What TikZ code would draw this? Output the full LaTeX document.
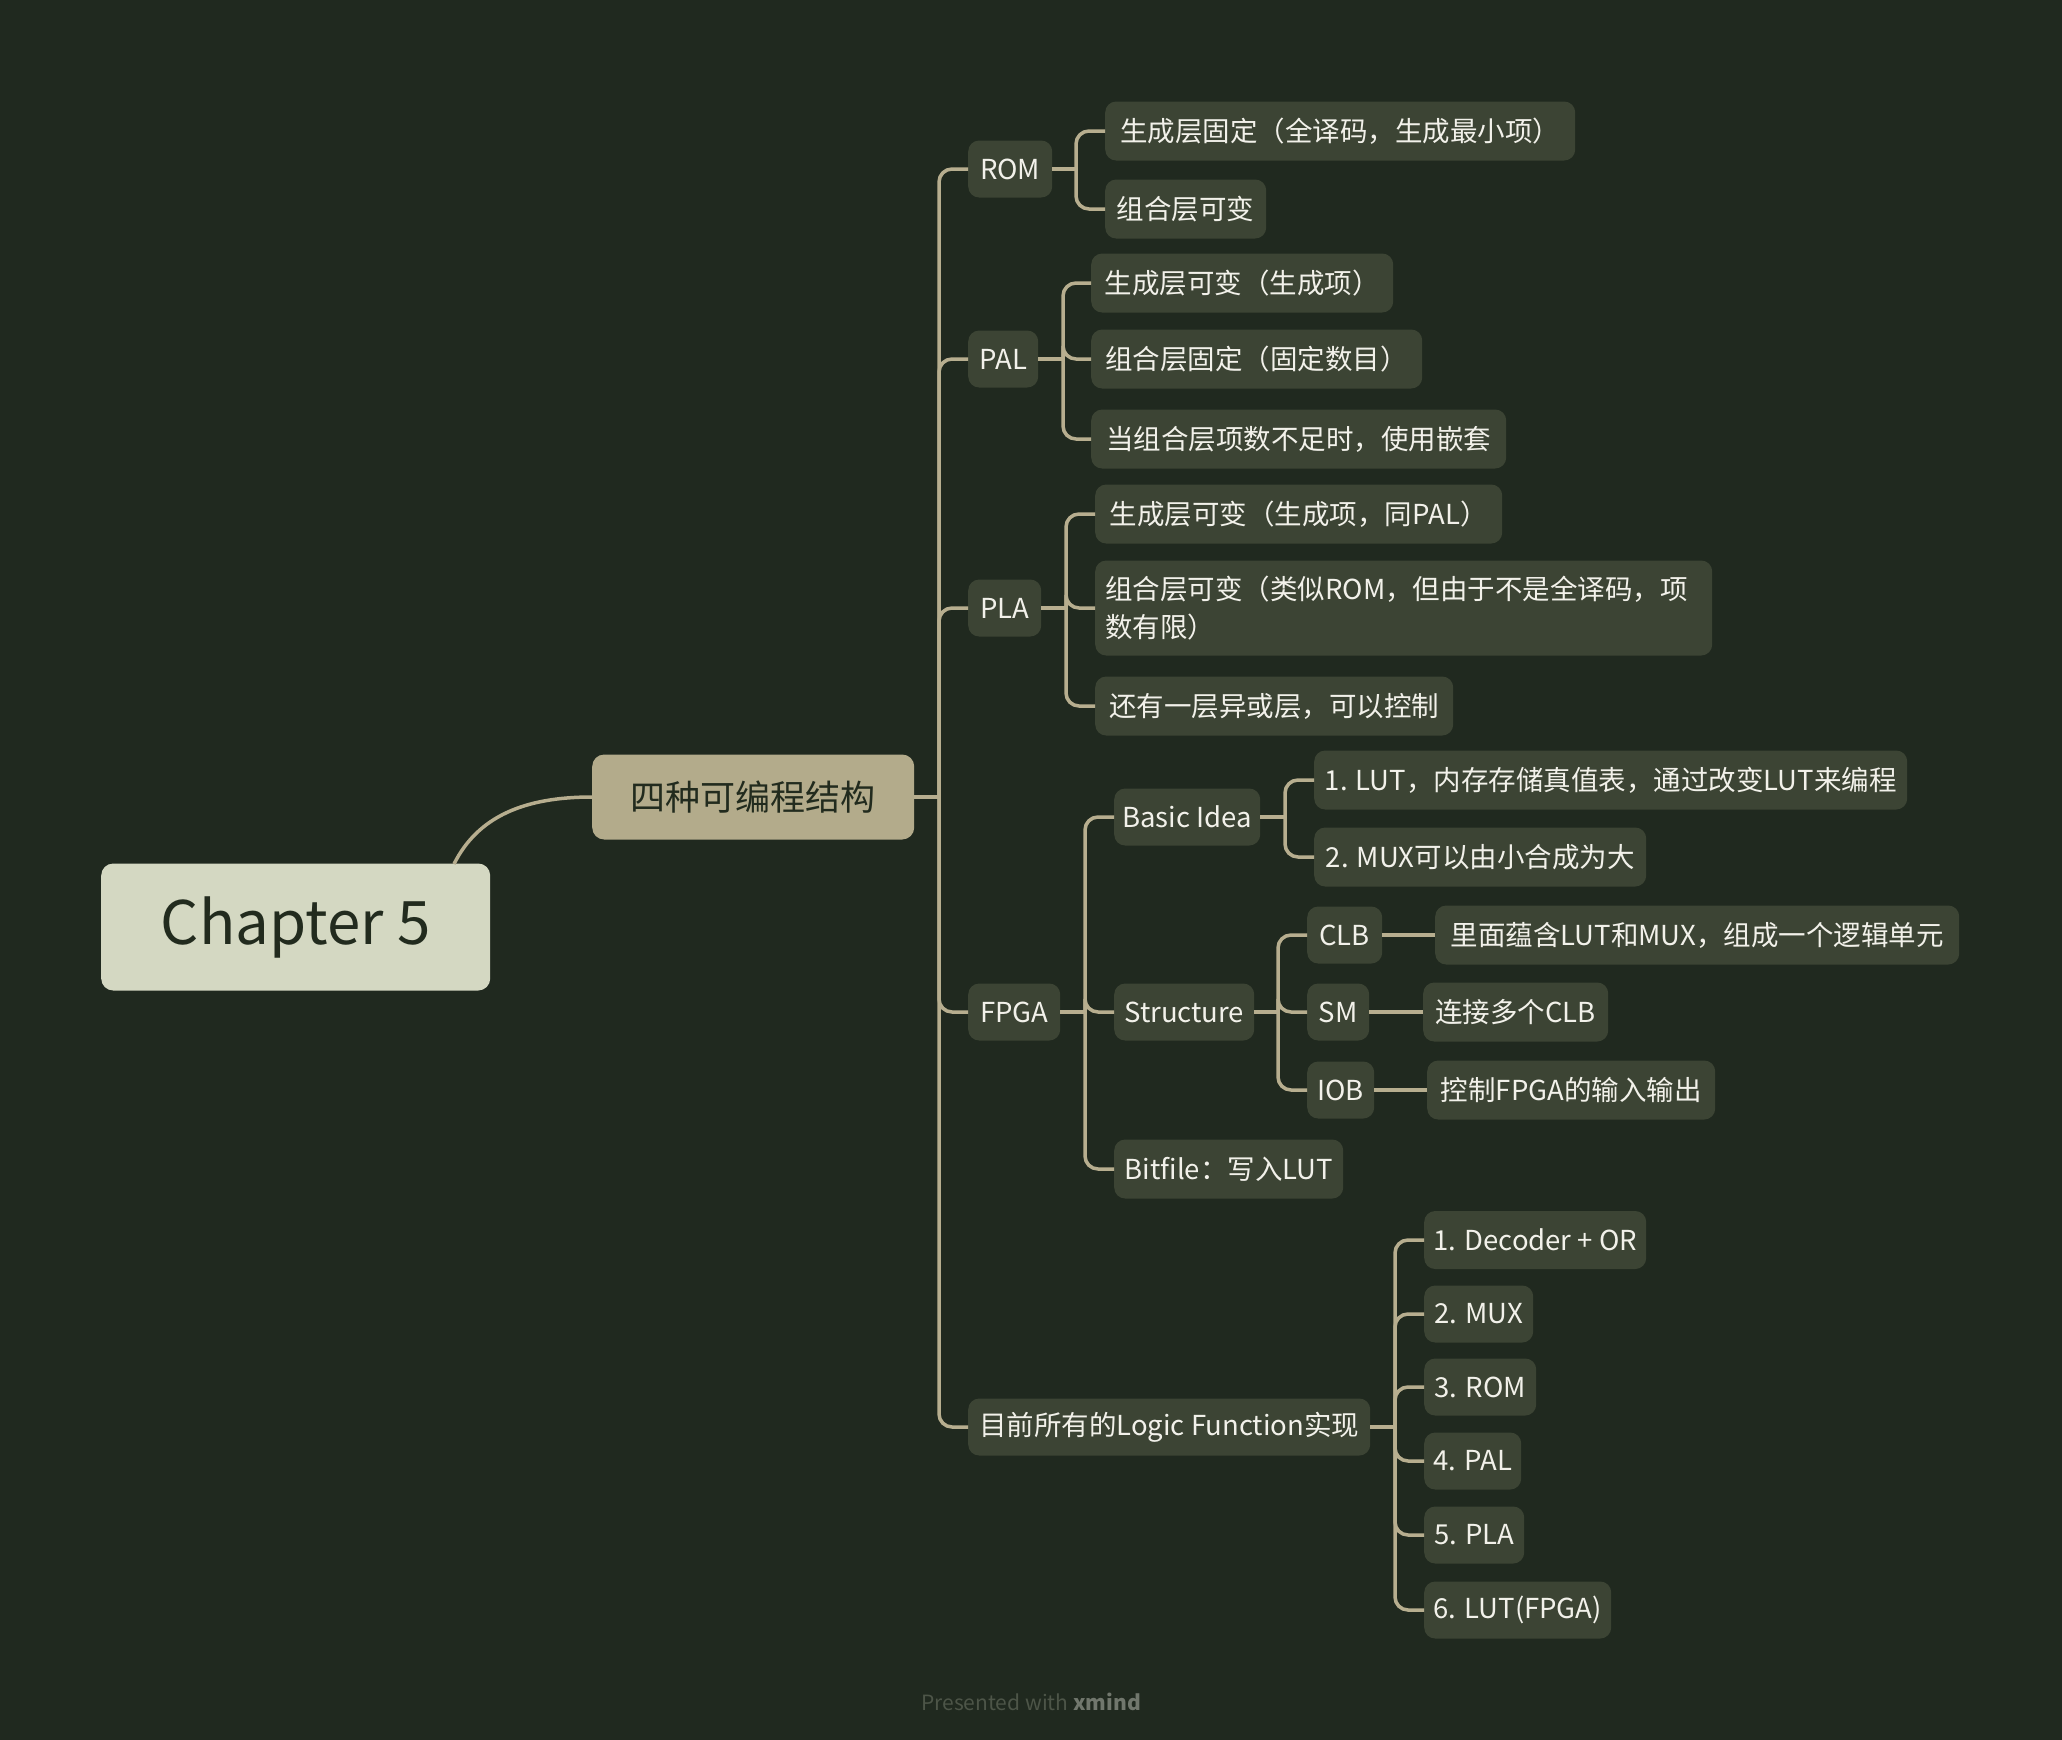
\documentclass[tikz,border=0pt]{standalone}
\usepackage{fontspec}
\setmainfont{Noto Sans CJK SC}
\definecolor{bg}{HTML}{20291F}
\definecolor{leaf}{HTML}{3C4434}
\definecolor{ln}{HTML}{B7AE8F}
\definecolor{rootc}{HTML}{D4D8C2}
\definecolor{mainc}{HTML}{B3AB8B}
\definecolor{dk}{HTML}{222B1E}
\definecolor{lt}{HTML}{F2F1EA}
\definecolor{foot}{HTML}{4D5548}
\tikzset{
  box/.style={fill=leaf, rounded corners=11, text=lt, anchor=west, inner xsep=0, inner ysep=0,
    minimum height=57, font=\fontsize{27.5}{38}\selectfont},
  conn/.style={draw=ln, line width=3.5, rounded corners=13},
}
\begin{document}
\begin{tikzpicture}[x=1pt,y=-1pt]
\fill[bg] (0,0) rectangle (2062,1740);
\useasboundingbox (0,0) rectangle (2062,1740);

% root and main
\node[fill=rootc, rounded corners=12, text=dk, anchor=west, minimum width=389, minimum height=127,
  font=\fontsize{60}{70}\selectfont] (root) at (101,927) {Chapter 5};
\node[fill=mainc, rounded corners=12, text=dk, anchor=west, minimum width=322, minimum height=85,
  font=\fontsize{35}{42}\selectfont] (main) at (592,797) {四种可编程结构};

% level 2
\node[box, minimum width=84] (ROM) at (968,169) {ROM};
\node[box, minimum width=70] (PAL) at (968,359) {PAL};
\node[box, minimum width=73] (PLA) at (968,608) {PLA};
\node[box, minimum width=92] (FPGA) at (968,1012) {FPGA};
\node[box, minimum width=402] (logic) at (968,1427) {目前所有的Logic Function实现};

% level 3
\node[box, minimum width=470, minimum height=59] (rom1) at (1105,131) {生成层固定（全译码，生成最小项）};
\node[box, minimum width=161, minimum height=59] (rom2) at (1105,209) {组合层可变};
\node[box, minimum width=302, minimum height=59] (pal1) at (1091,283) {生成层可变（生成项）};
\node[box, minimum width=331, minimum height=59] (pal2) at (1091,359) {组合层固定（固定数目）};
\node[box, minimum width=415, minimum height=59] (pal3) at (1091,439) {当组合层项数不足时，使用嵌套};
\node[box, minimum width=407, minimum height=59] (pla1) at (1095,514) {生成层可变（生成项，同PAL）};
\node[box, minimum width=617, minimum height=95, align=left, text width=597, inner xsep=10] (pla2) at (1095,608)
  {组合层可变（类似ROM，但由于不是全译码，项\\数有限）};
\node[box, minimum width=358, minimum height=59] (pla3) at (1095,706) {还有一层异或层，可以控制};
\node[box, minimum width=146] (basic) at (1114,817) {Basic Idea};
\node[box, minimum width=140] (struct) at (1114,1012) {Structure};
\node[box, minimum width=229, minimum height=59] (bitfile) at (1114,1169) {Bitfile：写入LUT};
\node[box, minimum width=593, minimum height=59] (bi1) at (1314,780) {1. LUT，内存存储真值表，通过改变LUT来编程};
\node[box, minimum width=332, minimum height=59] (bi2) at (1314,857) {2. MUX可以由小合成为大};
\node[box, minimum width=75] (clb) at (1307,935) {CLB};
\node[box, minimum width=62] (sm) at (1307,1012) {SM};
\node[box, minimum width=67] (iob) at (1307,1090) {IOB};
\node[box, minimum width=524, minimum height=59] (clbx) at (1435,935) {里面蕴含LUT和MUX，组成一个逻辑单元};
\node[box, minimum width=185, minimum height=59] (smx) at (1423,1012) {连接多个CLB};
\node[box, minimum width=288, minimum height=59] (iobx) at (1427,1090) {控制FPGA的输入输出};
\node[box, minimum width=222, minimum height=58] (d1) at (1424,1240) {1. Decoder + OR};
\node[box, minimum width=109] (d2) at (1424,1314) {2. MUX};
\node[box, minimum width=112] (d3) at (1424,1387) {3. ROM};
\node[box, minimum width=97] (d4) at (1424,1461) {4. PAL};
\node[box, minimum width=100] (d5) at (1424,1535) {5. PLA};
\node[box, minimum width=187] (d6) at (1424,1610) {6. LUT(FPGA)};

% junction coordinates
\coordinate (rs) at (454,864);
\coordinate (jm) at (939,797);
\coordinate (jrom) at (1076,169);
\coordinate (jpal) at (1063,359);
\coordinate (jpla) at (1066,608);
\coordinate (jfpga) at (1085,1012);
\coordinate (jbasic) at (1285,817);
\coordinate (jstruct) at (1278,1012);
\coordinate (jlogic) at (1395,1427);

% connectors
\draw[conn] (rs) .. controls (478,816) and (525,797) .. (main.west);
\draw[conn] (main.east) -- (jm);
\foreach \c in {ROM,PAL,PLA,FPGA,logic} \draw[conn] (jm) |- (\c.west);
\draw[conn] (ROM.east) -- (jrom);
\foreach \c in {rom1,rom2} \draw[conn] (jrom) |- (\c.west);
\draw[conn] (PAL.east) -- (jpal);
\foreach \c in {pal1,pal2,pal3} \draw[conn] (jpal) |- (\c.west);
\draw[conn] (PLA.east) -- (jpla);
\foreach \c in {pla1,pla2,pla3} \draw[conn] (jpla) |- (\c.west);
\draw[conn] (FPGA.east) -- (jfpga);
\foreach \c in {basic,struct,bitfile} \draw[conn] (jfpga) |- (\c.west);
\draw[conn] (basic.east) -- (jbasic);
\foreach \c in {bi1,bi2} \draw[conn] (jbasic) |- (\c.west);
\draw[conn] (struct.east) -- (jstruct);
\foreach \c in {clb,sm,iob} \draw[conn] (jstruct) |- (\c.west);
\draw[conn] (clb.east) -- (clbx.west);
\draw[conn] (sm.east) -- (smx.west);
\draw[conn] (iob.east) -- (iobx.west);
\draw[conn] (logic.east) -- (jlogic);
\foreach \c in {d1,d2,d3,d4,d5,d6} \draw[conn] (jlogic) |- (\c.west);

% footer
\node[text=foot, font=\fontsize{21}{24}\selectfont] (footer) at (1031,1702) {Presented with {\bfseries\color{foot!80!white}xmind}};
\end{tikzpicture}
\end{document}
